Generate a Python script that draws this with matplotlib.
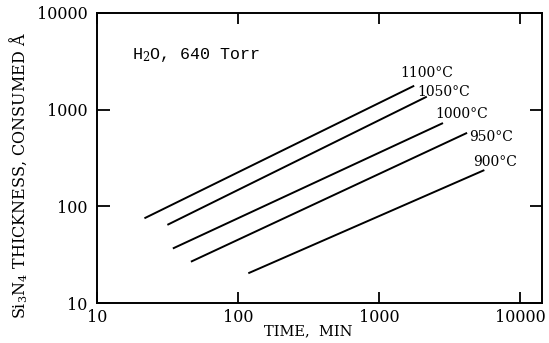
import matplotlib
matplotlib.use('Agg')
import matplotlib.pyplot as plt
from matplotlib.ticker import NullLocator, FixedFormatter, FixedLocator

plt.rcParams['font.family'] = 'DejaVu Serif'
plt.rcParams['mathtext.fontset'] = 'dejavuserif'

# (log-log)
temps = ['1100°C', '1050°C', '1000°C', '950°C', '900°C']
t_start = [22, 32, 35, 47, 120]
t_end = [1750, 2150, 2800, 4150, 5500]
th_start = [76, 65, 37, 27, 20.5]
th_end = [1750, 1350, 720, 570, 235]

x_ticks = [10, 100, 1000, 10000]
y_ticks = [10, 100, 1000, 10000]
tick_labels = ['10', '100', '1000', '10000']

# label spots in axes fraction
label_pos = [(0.681, 0.793), (0.719, 0.728), (0.760, 0.652), (0.836, 0.572), (0.845, 0.486)]

fig = plt.figure(figsize=(5.49, 3.43), dpi=100)
ax = fig.add_axes([0.1767, 0.1166, 0.8105, 0.8455])

for i in range(len(temps)):
  ax.plot([t_start[i], t_end[i]], [th_start[i], th_end[i]], color='black', lw=1.4)
  ax.text(label_pos[i][0], label_pos[i][1], temps[i], transform=ax.transAxes,
          fontsize=10, va='center', ha='left')

ax.set_xscale('log')
ax.set_yscale('log')
ax.set_xlim(10, 14300)
ax.set_ylim(10, 10000)

ax.xaxis.set_major_locator(FixedLocator(x_ticks))
ax.xaxis.set_major_formatter(FixedFormatter(tick_labels))
ax.yaxis.set_major_locator(FixedLocator(y_ticks))
ax.yaxis.set_major_formatter(FixedFormatter(tick_labels))
ax.xaxis.set_minor_locator(NullLocator())
ax.yaxis.set_minor_locator(NullLocator())
ax.tick_params(which='major', direction='in', length=9, width=1.3, labelsize=11.5, pad=4)
ax.tick_params(which='major', top=True, right=True)
ax.tick_params(axis='y', pad=7)
ax.tick_params(axis='x', length=8)

for s in ax.spines.values():
  s.set_linewidth(1.4)

ax.text(0.079, 0.855, 'H$_2$O, 640 Torr', transform=ax.transAxes, fontsize=12,
        family='Liberation Mono', va='center', ha='left')

ax.set_xlabel('TIME,  MIN', fontsize=10.5, labelpad=0)
ax.xaxis.set_label_coords(0.475, -0.075)
ax.set_ylabel('Si$_3$N$_4$ THICKNESS, CONSUMED Å', fontsize=11.5)
ax.yaxis.set_label_coords(-0.15, 0.44)

plt.savefig('out.png', dpi=100)
